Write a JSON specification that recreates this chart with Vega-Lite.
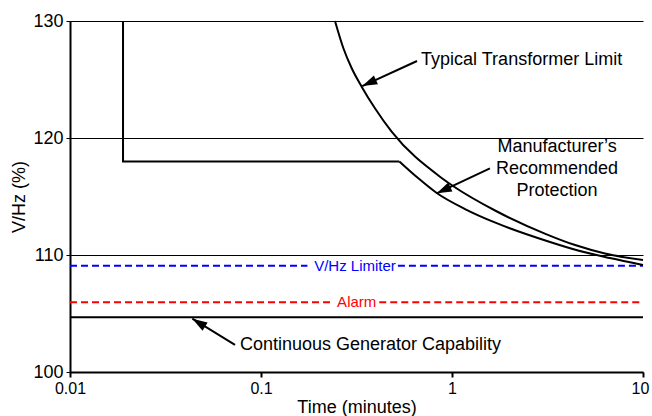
{
  "$schema": "https://vega.github.io/schema/vega-lite/v6.json",
  "width": 573,
  "height": 351,
  "autosize": {"type": "none"},
  "padding": {"left": 70, "top": 21, "right": 9, "bottom": 44},
  "background": "white",
  "config": {"view": {"stroke": null}, "font": "Liberation Sans"},
  "datasets": {
    "levels": [
      {"line": "V/Hz Limiter", "from": 0.01, "to": 0.175, "v": 109.09},
      {"line": "V/Hz Limiter", "from": 0.521, "to": 10, "v": 109.09},
      {"line": "Alarm", "from": 0.01, "to": 0.2395, "v": 105.96},
      {"line": "Alarm", "from": 0.416, "to": 10, "v": 105.96},
      {"line": "Continuous Generator Capability", "from": 0.01, "to": 10, "v": 104.67}
    ],
    "levelLabels": [
      {"line": "V/Hz Limiter", "t": 0.3105, "v": 109.09},
      {"line": "Alarm", "t": 0.317, "v": 105.96}
    ],
    "step": [
      {"i": 0, "t": 0.01895, "v": 130},
      {"i": 1, "t": 0.01895, "v": 118},
      {"i": 2, "t": 0.53, "v": 118}
    ],
    "curves": [
      {"curve": "Typical Transformer Limit", "i": 0, "t": 0.244, "v": 130},
      {"curve": "Typical Transformer Limit", "i": 1, "t": 0.27, "v": 127.67},
      {"curve": "Typical Transformer Limit", "i": 2, "t": 0.2985, "v": 125.96},
      {"curve": "Typical Transformer Limit", "i": 3, "t": 0.3365, "v": 124.39},
      {"curve": "Typical Transformer Limit", "i": 4, "t": 0.395, "v": 122.54},
      {"curve": "Typical Transformer Limit", "i": 5, "t": 0.483, "v": 120.54},
      {"curve": "Typical Transformer Limit", "i": 6, "t": 0.865, "v": 116.69},
      {"curve": "Typical Transformer Limit", "i": 7, "t": 1.012, "v": 115.9},
      {"curve": "Typical Transformer Limit", "i": 8, "t": 1.7, "v": 113.76},
      {"curve": "Typical Transformer Limit", "i": 9, "t": 3.105, "v": 111.79},
      {"curve": "Typical Transformer Limit", "i": 10, "t": 4.41, "v": 110.85},
      {"curve": "Typical Transformer Limit", "i": 11, "t": 6.32, "v": 110.13},
      {"curve": "Typical Transformer Limit", "i": 12, "t": 10, "v": 109.57},
      {"curve": "Manufacturer's Recommended Protection", "i": 0, "t": 0.53, "v": 118},
      {"curve": "Manufacturer's Recommended Protection", "i": 1, "t": 0.664, "v": 116.58},
      {"curve": "Manufacturer's Recommended Protection", "i": 2, "t": 0.832, "v": 115.3},
      {"curve": "Manufacturer's Recommended Protection", "i": 3, "t": 1.17, "v": 113.93},
      {"curve": "Manufacturer's Recommended Protection", "i": 4, "t": 1.7, "v": 112.74},
      {"curve": "Manufacturer's Recommended Protection", "i": 5, "t": 3.26, "v": 111.11},
      {"curve": "Manufacturer's Recommended Protection", "i": 6, "t": 4.57, "v": 110.38},
      {"curve": "Manufacturer's Recommended Protection", "i": 7, "t": 6.71, "v": 109.74},
      {"curve": "Manufacturer's Recommended Protection", "i": 8, "t": 10, "v": 109.15}
    ],
    "notes": [
      {"note": "Typical Transformer Limit", "t": 0.689, "v": 126.67, "tail_t": 0.656, "tail_v": 126.58, "tip_t": 0.339, "tip_v": 124.44},
      {"note": "Manufacturer’s\nRecommended\nProtection", "t": 3.55, "v": 119.26, "tail_t": 1.58, "tail_v": 117.41, "tip_t": 0.832, "tip_v": 115.27},
      {"note": "Continuous Generator Capability", "t": 0.0776, "v": 102.31, "tail_t": 0.0731, "tail_v": 102.31, "tip_t": 0.0437, "tip_v": 104.56}
    ]
  },
  "layer": [
    {
      "data": {"name": "levels"},
      "mark": {"type": "rule", "strokeWidth": 2},
      "encoding": {
        "x": {
          "field": "from", "type": "quantitative", "title": "Time (minutes)",
          "scale": {"type": "log", "domain": [0.01, 10], "nice": false},
          "axis": {
            "values": [0.01, 0.1, 1, 10], "format": "~g",
            "grid": false, "domainColor": "black", "domainWidth": 2,
            "tickColor": "black", "tickWidth": 2, "tickSize": 5,
            "labelFontSize": 16, "labelColor": "black", "labelPadding": 3, "labelFlush": false,
            "labelOffset": {"condition": {"test": "datum.value === 10", "value": -3}, "value": 0},
            "titleFontSize": 18, "titleFontWeight": "normal", "titleColor": "black", "titlePadding": 2
          }
        },
        "x2": {"field": "to"},
        "y": {
          "field": "v", "type": "quantitative", "title": "V/Hz (%)",
          "scale": {"domain": [100, 130], "nice": false, "zero": false},
          "axis": {
            "values": [100, 110, 120, 130],
            "grid": true, "gridColor": "black", "gridWidth": 1, "gridOpacity": 1,
            "domainColor": "black", "domainWidth": 2,
            "tickColor": "black", "tickWidth": 1, "tickSize": 4,
            "labelFontSize": 18, "labelColor": "black", "labelPadding": 3, "labelFlush": false,
            "titleFontSize": 18, "titleFontWeight": "normal", "titleColor": "black", "titlePadding": 4
          }
        },
        "color": {
          "field": "line", "type": "nominal", "legend": null,
          "scale": {"domain": ["V/Hz Limiter", "Alarm", "Continuous Generator Capability"], "range": ["#0000ff", "#ff0000", "#000000"]}
        },
        "strokeDash": {
          "field": "line", "type": "nominal", "legend": null,
          "scale": {"domain": ["V/Hz Limiter", "Alarm", "Continuous Generator Capability"], "range": [[7, 4], [7, 4], [1, 0]]}
        }
      }
    },
    {
      "data": {"name": "levelLabels"},
      "mark": {"type": "text", "fontSize": 15, "align": "center", "baseline": "middle"},
      "encoding": {
        "x": {"field": "t", "type": "quantitative", "title": "Time (minutes)"},
        "y": {"field": "v", "type": "quantitative", "title": "V/Hz (%)"},
        "text": {"field": "line"},
        "color": {"field": "line", "type": "nominal", "legend": null}
      }
    },
    {
      "data": {"name": "step"},
      "mark": {"type": "line", "color": "black", "strokeWidth": 2, "interpolate": "linear"},
      "encoding": {
        "x": {"field": "t", "type": "quantitative", "title": "Time (minutes)"},
        "y": {"field": "v", "type": "quantitative", "title": "V/Hz (%)"},
        "order": {"field": "i"}
      }
    },
    {
      "data": {"name": "curves"},
      "mark": {"type": "line", "color": "black", "strokeWidth": 2, "interpolate": "monotone"},
      "encoding": {
        "x": {"field": "t", "type": "quantitative", "title": "Time (minutes)"},
        "y": {"field": "v", "type": "quantitative", "title": "V/Hz (%)"},
        "detail": {"field": "curve"},
        "order": {"field": "i"}
      }
    },
    {
      "data": {"name": "notes"},
      "mark": {"type": "rule", "color": "black", "strokeWidth": 2},
      "encoding": {
        "x": {"field": "tail_t", "type": "quantitative", "title": "Time (minutes)"},
        "x2": {"field": "tip_t"},
        "y": {"field": "tail_v", "type": "quantitative", "title": "V/Hz (%)"},
        "y2": {"field": "tip_v"}
      }
    },
    {
      "data": {"name": "notes"},
      "transform": [{"filter": "datum.note === 'Typical Transformer Limit'"}],
      "mark": {"type": "point", "shape": "M0,0L-0.65,2L0.65,2Z", "filled": true, "opacity": 1, "color": "black", "size": 225, "angle": 245.4},
      "encoding": {
        "x": {"field": "tip_t", "type": "quantitative", "title": "Time (minutes)"},
        "y": {"field": "tip_v", "type": "quantitative", "title": "V/Hz (%)"}
      }
    },
    {
      "data": {"name": "notes"},
      "transform": [{"filter": "indexof(datum.note, 'Recommended') >= 0"}],
      "mark": {"type": "point", "shape": "M0,0L-0.65,2L0.65,2Z", "filled": true, "opacity": 1, "color": "black", "size": 225, "angle": 244.9},
      "encoding": {
        "x": {"field": "tip_t", "type": "quantitative", "title": "Time (minutes)"},
        "y": {"field": "tip_v", "type": "quantitative", "title": "V/Hz (%)"}
      }
    },
    {
      "data": {"name": "notes"},
      "transform": [{"filter": "datum.note === 'Continuous Generator Capability'"}],
      "mark": {"type": "point", "shape": "M0,0L-0.65,2L0.65,2Z", "filled": true, "opacity": 1, "color": "black", "size": 225, "angle": 301.75},
      "encoding": {
        "x": {"field": "tip_t", "type": "quantitative", "title": "Time (minutes)"},
        "y": {"field": "tip_v", "type": "quantitative", "title": "V/Hz (%)"}
      }
    },
    {
      "data": {"name": "notes"},
      "transform": [{"filter": "indexof(datum.note, 'Recommended') < 0"}],
      "mark": {"type": "text", "fontSize": 18, "align": "left", "baseline": "middle", "color": "black"},
      "encoding": {
        "x": {"field": "t", "type": "quantitative", "title": "Time (minutes)"},
        "y": {"field": "v", "type": "quantitative", "title": "V/Hz (%)"},
        "text": {"field": "note"}
      }
    },
    {
      "data": {"name": "notes"},
      "transform": [{"filter": "indexof(datum.note, 'Recommended') >= 0"}],
      "mark": {"type": "text", "fontSize": 18, "align": "center", "baseline": "middle", "color": "black", "lineBreak": "\n", "lineHeight": 22},
      "encoding": {
        "x": {"field": "t", "type": "quantitative", "title": "Time (minutes)"},
        "y": {"field": "v", "type": "quantitative", "title": "V/Hz (%)"},
        "text": {"field": "note"}
      }
    }
  ]
}
